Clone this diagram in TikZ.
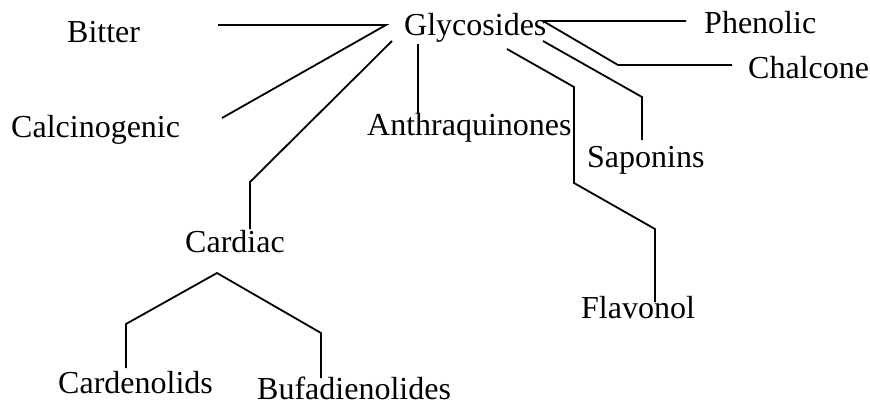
\documentclass[tikz,border=0pt]{standalone}
\usepackage{fontspec}
\setmainfont{Liberation Serif}
\begin{document}
\begin{tikzpicture}[x=1pt,y=-1pt,
  lbl/.style={anchor=base west,inner sep=0pt,font=\fontsize{32}{38}\selectfont},
  conn/.style={line width=1.8pt,line join=miter}]
\useasboundingbox (0,0) rectangle (870,402);
% labels
\node[lbl] (gly) at (404,35) {Glycosides};
\node[lbl] (bit) at (67,42) {Bitter};
\node[lbl] (cal) at (11,137) {Calcinogenic};
\node[lbl] (ant) at (367,135) {Anthraquinones};
\node[lbl] (phe) at (704,33) {Phenolic};
\node[lbl] (cha) at (748,78) {Chalcone};
\node[lbl] (sap) at (587,167) {Saponins};
\node[lbl] (fla) at (581,318) {Flavonol};
\node[lbl] (car) at (185,252) {Cardiac};
\node[lbl] (cdn) at (58,393) {Cardenolids};
\node[lbl,text depth=0pt] (buf) at (257,399) {Bufadienolides};
% connector points
\coordinate (gL) at (386,25);
\coordinate (bitE) at (218,25);
\coordinate (calE) at (222,118);
\coordinate (gC) at (392,41);
\coordinate (carK) at (250,182);
\coordinate (carE) at (250,229);
\coordinate (antS) at (418,44);
\coordinate (antE) at (418,113);
\coordinate (flaS) at (507,49);
\coordinate (flaK1) at (574,87);
\coordinate (flaK2) at (574,183);
\coordinate (flaK3) at (655,229);
\coordinate (flaE) at (655,302);
\coordinate (sapS) at (543,41);
\coordinate (sapK) at (642,97);
\coordinate (sapE) at (642,140);
\coordinate (gR) at (543,21);
\coordinate (chaK) at (618,65);
\coordinate (chaE) at (732,65);
\coordinate (pheE) at (686,21);
\coordinate (cAp) at (217,273);
\coordinate (cdnK) at (126,324);
\coordinate (cdnE) at (126,368);
\coordinate (bufK) at (321,333);
\coordinate (bufE) at (321,378);
% connectors
\draw[conn] (bitE) -- (gL) -- (calE);
\draw[conn] (gC) -- (carK) -- (carE);
\draw[conn] (antS) -- (antE);
\draw[conn] (flaS) -- (flaK1) -- (flaK2) -- (flaK3) -- (flaE);
\draw[conn] (sapS) -- (sapK) -- (sapE);
\draw[conn] (pheE) -- (gR) -- (chaK) -- (chaE);
\draw[conn] (cdnE) -- (cdnK) -- (cAp) -- (bufK) -- (bufE);
\end{tikzpicture}
\end{document}
